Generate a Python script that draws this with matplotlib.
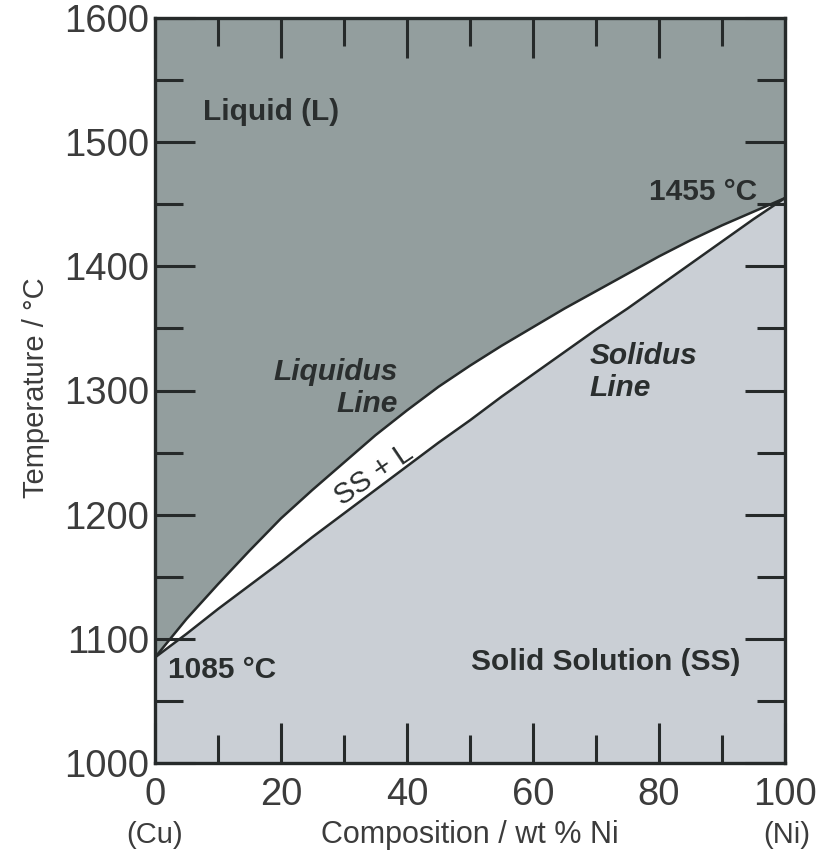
import numpy as np
import matplotlib
matplotlib.use("Agg")
import matplotlib.pyplot as plt
from matplotlib.ticker import MultipleLocator

# Data
comp = [0, 5, 10, 15, 20, 25, 30, 35, 40, 45, 50, 55, 60, 65, 70, 75, 80, 85, 90, 95, 100]  # wt % Ni
liquidus = [1085, 1116, 1144, 1171, 1197, 1220, 1242, 1264, 1284, 1303, 1320,
            1336, 1351, 1366, 1380, 1394, 1408, 1421, 1433, 1444, 1455]
solidus = [1085, 1104, 1124, 1143, 1162, 1182, 1201, 1220, 1239, 1258, 1276,
           1295, 1313, 1331, 1349, 1366, 1384, 1402, 1420, 1438, 1455]
xticks = [0, 20, 40, 60, 80, 100]
yticks = [1000, 1100, 1200, 1300, 1400, 1500, 1600]

plt.rcParams['font.family'] = ['Liberation Sans', 'DejaVu Sans']

fig = plt.figure(figsize=(8.36, 8.56), dpi=100)
ax = fig.add_axes([155/836, 1 - 763/856, 630/836, 745/856])

liq_col = '#939e9e'
ss_col = '#cacfd5'
edge = '#262a2a'

x = np.array(comp)
ax.fill_between(x, liquidus, 1600, color=liq_col, lw=0, zorder=1)
ax.fill_between(x, solidus, liquidus, color='white', lw=0, zorder=1)
ax.fill_between(x, 1000, solidus, color=ss_col, lw=0, zorder=1)
ax.plot(x, liquidus, color=edge, lw=1.8, zorder=2)
ax.plot(x, solidus, color=edge, lw=1.8, zorder=2)

ax.set_xlim(0, 100)
ax.set_ylim(1000, 1600)
ax.set_xticks(xticks)
ax.set_yticks(yticks)
ax.xaxis.set_minor_locator(MultipleLocator(10))
ax.yaxis.set_minor_locator(MultipleLocator(50))
ax.tick_params(which='both', direction='in', top=True, right=True,
               color=edge, width=2.2, labelsize=27.5, labelcolor='#3c3c3c')
ax.tick_params(which='major', length=29)
ax.tick_params(which='minor', length=20)
ax.tick_params(axis='x', pad=10)
ax.tick_params(axis='y', pad=4)
for s in ax.spines.values():
    s.set_linewidth(2.4)
    s.set_color(edge)
    s.set_zorder(5)

tc = '#2a2e2e'
fs = 21.5
ax.text(18.5, 1524, 'Liquid (L)', fontsize=fs, fontweight='bold', color=tc,
        ha='center', va='center')
ax.text(87.0, 1460, '1455 °C', fontsize=fs, fontweight='bold', color=tc,
        ha='center', va='center')
ax.text(10.6, 1075, '1085 °C', fontsize=fs, fontweight='bold', color=tc,
        ha='center', va='center')
ax.text(38.6, 1302, 'Liquidus\nLine', fontsize=fs, fontweight='bold',
        fontstyle='italic', color=tc, ha='right', va='center', linespacing=1.15)
ax.text(69.0, 1315, 'Solidus\nLine', fontsize=fs, fontweight='bold',
        fontstyle='italic', color=tc, ha='left', va='center', linespacing=1.15)
ax.text(71.5, 1081, 'Solid Solution (SS)', fontsize=fs, fontweight='bold',
        color=tc, ha='center', va='center')
ax.text(34.8, 1232, 'SS + L', fontsize=21, color=tc, ha='center', va='center',
        rotation=34, rotation_mode='anchor')

lc = '#3c3c3c'
fig.text(155/836, 1 - 835/856, '(Cu)', fontsize=21, color=lc,
         ha='center', va='center')
fig.text(470/836, 1 - 835/856, 'Composition / wt % Ni', fontsize=22,
         color=lc, ha='center', va='center')
fig.text(787/836, 1 - 835/856, '(Ni)', fontsize=21, color=lc,
         ha='center', va='center')
fig.text(36/836, 1 - 388/856, 'Temperature / °C', fontsize=21, color=lc,
         ha='center', va='center', rotation=90)

fig.savefig('out.png', dpi=100, facecolor='white')
